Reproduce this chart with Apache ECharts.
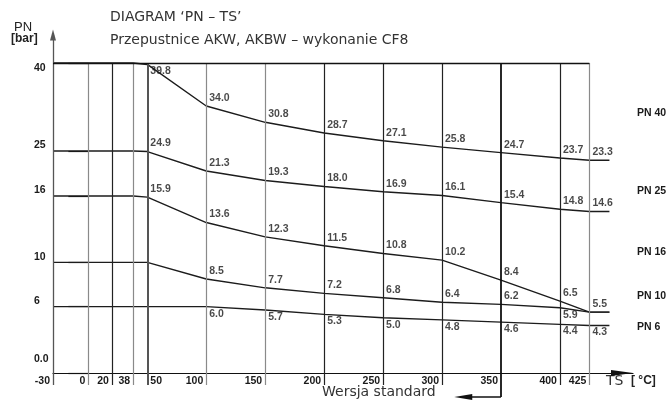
<!DOCTYPE html>
<html><head><meta charset="utf-8">
<script src="https://cdn.jsdelivr.net/npm/echarts@6/dist/echarts.min.js"></script>
<style>html,body{margin:0;padding:0;background:#fff}#c{width:670px;height:405px}</style>
</head><body><div id="c"></div>
<script>
// ---------- data ----------
const tsTicks = [-30, 0, 20, 38, 50, 100, 150, 200, 250, 300, 350, 400, 425];
const tsPoints = [50, 100, 150, 200, 250, 300, 350, 400, 425];
const pnNames = ['PN 40', 'PN 25', 'PN 16', 'PN 10', 'PN 6'];
const pnLevels = [40, 25, 16, 10, 6];
const pn40 = [39.8, 34.0, 30.8, 28.7, 27.1, 25.8, 24.7, 23.7, 23.3];
const pn25 = [24.9, 21.3, 19.3, 18.0, 16.9, 16.1, 15.4, 14.8, 14.6];
const pn16 = [15.9, 13.6, 12.3, 11.5, 10.8, 10.2, 8.4, 6.5, 5.5];
const pn10 = [null, 8.5, 7.7, 7.2, 6.8, 6.4, 6.2, 5.9, 5.5];
const pn6  = [null, 6.0, 5.7, 5.3, 5.0, 4.8, 4.6, 4.4, 4.3];
const flatUntil = [38, 38, 38, 50, 100];
const pressureTicks = [0, 6, 10, 16, 25, 40];

// ---------- scale (the drawing uses a broken pressure axis) ----------
const pressureScale = [[0, 0], [16, 177], [21.3, 202], [25, 222], [28.7, 240], [34, 267], [40, 310]];
function toAxis(v) {
  for (let i = 1; i < pressureScale.length; i++) {
    const [a0, b0] = pressureScale[i - 1], [a1, b1] = pressureScale[i];
    if (v <= a1 || i === pressureScale.length - 1) return b0 + (v - a0) * (b1 - b0) / (a1 - a0);
  }
}
const TS_MIN = -30, TS_MAX = 462, STUB_END = 442, ARROW_END = 318;
const P_MIN = -25, P_MAX = 344, TICK_BOTTOM = -12, ARROW_BOTTOM = -24, YARROW_END = 338;

// ---------- styles ----------
const LBL = { fontFamily: 'Liberation Sans', fontWeight: 'bold', fontSize: 10.5, color: '#1a1a1a' };
function gridTone(ts) {
  if (ts === 350) return { color: '#111', width: 1.8, type: 'solid' };
  if (ts === 50) return { color: '#555', width: 2, type: 'solid' };
  if ([20, 200, 250, 300, 400].includes(ts)) return { color: '#222', width: 1.2, type: 'solid' };
  return { color: '#8a8a8a', width: 1.2, type: 'solid' };
}
const labelBelow = { 'PN 40': [50], 'PN 10': [400], 'PN 6': tsPoints };
const labelSkip = { 'PN 16': [425] };

// ---------- build ----------
const seriesValues = [pn40, pn25, pn16, pn10, pn6];
const p40 = toAxis(40);
const series = [];
const marks = [];
tsTicks.forEach(ts => {
  const tone = gridTone(ts);
  if (ts === -30) {
    marks.push([{ coord: [ts, TICK_BOTTOM], lineStyle: { color: '#555', width: 1.3, type: 'solid' } },
                { coord: [ts, YARROW_END], symbol: 'triangle', symbolSize: [6, 11] }]);
  } else {
    marks.push([{ coord: [ts, ts === 350 ? ARROW_BOTTOM : TICK_BOTTOM], lineStyle: tone }, { coord: [ts, p40] }]);
  }
});
marks.push([{ coord: [-30, p40], lineStyle: { color: '#111', width: 1.4, type: 'solid' } }, { coord: [425, p40] }]);
marks.push([{ coord: [350, ARROW_BOTTOM], lineStyle: { color: '#111', width: 1.6, type: 'solid' } },
            { coord: [ARROW_END, ARROW_BOTTOM], symbol: 'triangle', symbolSize: [6, 18] }]);
series.push({ type: 'line', data: [], silent: true, z: 1,
  markLine: { silent: true, symbol: ['none', 'none'], label: { show: false }, animation: false,
    lineStyle: { type: 'solid' }, emphasis: { disabled: true }, data: marks } });

pnNames.forEach((name, i) => {
  const level = pnLevels[i], vals = seriesValues[i];
  const pts = [[-30, toAxis(level)]];
  const fIdx = tsPoints.indexOf(flatUntil[i]);
  if (fIdx < 0 || vals[fIdx] == null) pts.push([flatUntil[i], toAxis(level)]);
  const labels = [];
  let last = null;
  tsPoints.forEach((ts, j) => {
    const v = vals[j];
    if (v == null) return;
    pts.push([ts, toAxis(v)]);
    last = v;
    if ((labelSkip[name] || []).includes(ts)) return;
    const below = (labelBelow[name] || []).includes(ts);
    labels.push({ name: v.toFixed(1), value: [ts, toAxis(v)],
      label: { position: below ? 'bottom' : 'top', distance: below ? 1 : 2 } });
  });
  pts.push([STUB_END, toAxis(last)]);
  series.push({ type: 'line', name, data: pts, showSymbol: false, symbol: 'none', z: 3,
    lineStyle: { color: '#1c1c1c', width: 1.4 }, animation: false });
  series.push({ type: 'scatter', name: name + ' labels', data: labels, symbolSize: 1, z: 4,
    itemStyle: { color: 'rgba(0,0,0,0)' },
    label: Object.assign({ show: true, formatter: '{b}', align: 'left', offset: [3, 0] }, LBL) });
});

const yLabelMap = {};
pressureTicks.forEach(v => { yLabelMap[Math.round(toAxis(v))] = v === 0 ? '0.0' : String(v); });

const rightLabelY = [113, 191, 252, 296, 327];
const CAD = '14px "DejaVu Sans"';
const CAD_FILL = '#333';
const graphic = [
  { type: 'text', x: 110, y: 17, style: { text: 'DIAGRAM ‘PN – TS’', font: CAD, fill: CAD_FILL, textVerticalAlign: 'middle' } },
  { type: 'text', x: 110, y: 40, style: { text: 'Przepustnice AKW, AKBW – wykonanie CF8', font: CAD, fill: CAD_FILL, textVerticalAlign: 'middle' } },
  { type: 'text', x: 14, y: 27, style: { text: 'PN', font: '13px "Liberation Sans"', fill: '#222', textVerticalAlign: 'middle' } },
  { type: 'text', x: 11, y: 39, style: { text: '[bar]', font: 'bold 12px "Liberation Sans"', fill: '#222', textVerticalAlign: 'middle' } },
  { type: 'text', x: 606, y: 381, style: { text: 'TS', font: CAD, fill: CAD_FILL, textVerticalAlign: 'middle' } },
  { type: 'text', x: 631, y: 381, style: { text: '[ °C]', font: 'bold 12px "Liberation Sans"', fill: '#222', textVerticalAlign: 'middle' } },
  { type: 'text', x: 322, y: 392, style: { text: 'Wersja standard', font: CAD, fill: CAD_FILL, textVerticalAlign: 'middle' } }
];
pnNames.forEach((n, i) => graphic.push({ type: 'text', x: 637, y: rightLabelY[i],
  style: { text: n, font: 'bold 10.5px "Liberation Sans"', fill: '#1a1a1a', textVerticalAlign: 'middle' } }));

// x labels are laid out from the grid's bottom edge; pull them up to sit under the TS axis at pressure 0
const X_LABEL_MARGIN = 3 + P_MIN;
const axisFont = LBL;
const option = {
  animation: false,
  backgroundColor: '#fff',
  grid: { left: 53, right: 37, top: 29, bottom: 7, containLabel: false, outerBoundsMode: 'none' },
  xAxis: [
    { type: 'value', min: TS_MIN, max: TS_MAX, position: 'bottom',
      axisLine: { show: true, onZero: true, lineStyle: { color: '#111', width: 1.2 },
        symbol: ['none', 'triangle'], symbolSize: [6, 22], symbolOffset: [0, -11] },
      axisTick: { show: false }, splitLine: { show: false },
      axisLabel: Object.assign({ customValues: tsTicks.filter(t => t !== 50), formatter: v => String(v),
        align: 'right', padding: [0, 3, 0, 0], margin: X_LABEL_MARGIN }, axisFont) },
    { type: 'value', min: TS_MIN, max: TS_MAX, position: 'bottom',
      axisLine: { show: false, onZero: true }, axisTick: { show: false }, splitLine: { show: false },
      axisLabel: Object.assign({ customValues: [50], formatter: v => String(v),
        align: 'left', padding: [0, 0, 0, 3], margin: X_LABEL_MARGIN }, axisFont) }
  ],
  yAxis: [
    { type: 'value', min: P_MIN, max: P_MAX, position: 'left',
      axisLine: { show: false }, splitLine: { show: false },
      axisTick: { show: true, customValues: pressureTicks.map(toAxis), length: 20, lineStyle: { color: '#111', width: 1.2 } },
      axisLabel: Object.assign({ customValues: [0, 6, 10, 16, 25].map(toAxis),
        formatter: v => { const t = yLabelMap[Math.round(v)]; return t === '0.0' ? '{b|0.0}\n{s| }' : '{b|' + t + '}'; },
        rich: { b: Object.assign({}, LBL), s: { fontSize: 1, lineHeight: 8 } },
        align: 'left', verticalAlign: 'bottom', margin: 19 }, axisFont) },
    { type: 'value', min: P_MIN, max: P_MAX, position: 'left',
      axisLine: { show: false }, splitLine: { show: false }, axisTick: { show: false },
      axisLabel: Object.assign({ customValues: [p40], formatter: () => '40',
        align: 'left', verticalAlign: 'top', margin: 19 }, axisFont) }
  ],
  graphic,
  series
};
const chart = echarts.init(document.getElementById('c'), null, { renderer: 'canvas' });
chart.setOption(option);
</script></body></html>
